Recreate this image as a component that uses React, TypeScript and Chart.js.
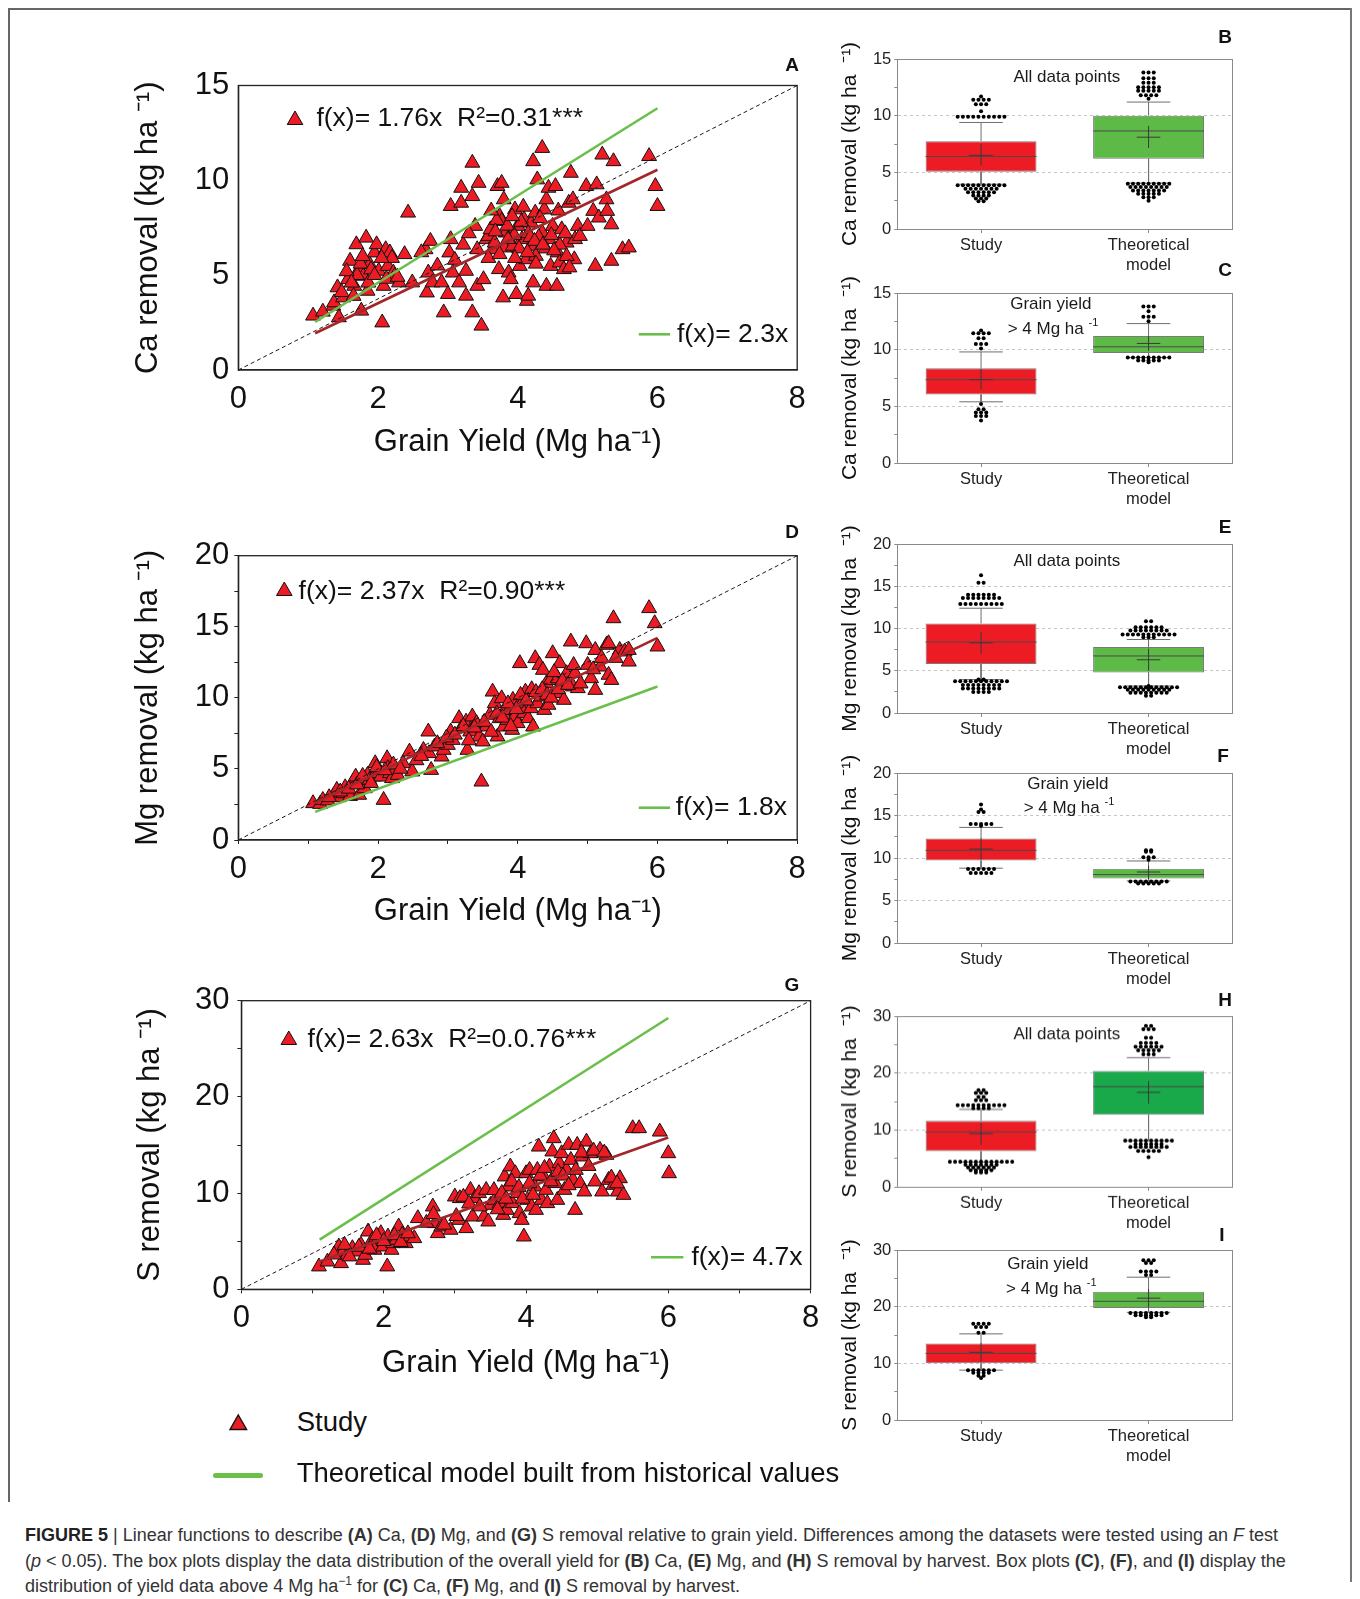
import React, { useEffect, useRef } from 'react';
import { Chart, registerables } from 'chart.js';

Chart.register(...registerables);

const FONT = '"Liberation Sans", Arial, Helvetica, sans-serif';
Chart.defaults.font.family = FONT;

const PAGE_X = 8;
const PAGE_Y = 8;

// ======================= DATA =======================
type Pt = [number, number];

// Scatter panels: [grain yield (Mg/ha), removal (kg/ha)]
const CA_POINTS: Pt[] = [
  [1.07,2.86],[1.21,3.07],[1.36,3.38],[1.42,4.35],[1.37,3.56],[1.44,2.77],[1.50,3.82],[1.57,4.78],
  [1.60,5.75],[1.66,4.43],[1.69,6.62],[1.73,5.31],[1.76,3.12],[1.81,5.75],[1.83,6.97],[1.79,4.96],
  [1.85,4.17],[1.88,5.57],[1.95,6.19],[1.98,6.62],[2.01,5.22],[2.06,2.50],[2.08,4.43],[2.11,6.36],
  [2.14,5.48],[2.17,6.19],[2.22,5.13],[2.24,4.96],[2.30,4.61],[2.38,6.10],[2.43,8.29],[2.49,4.61],
  [2.70,4.08],[2.72,5.13],[2.68,6.36],[2.75,6.80],[2.78,4.61],[2.91,4.61],[2.94,3.03],[3.00,4.00],
  [3.02,6.19],[3.04,6.89],[3.04,8.64],[3.07,5.13],[3.16,4.61],[3.19,9.60],[3.19,8.81],[3.26,5.22],
  [3.26,3.91],[3.35,10.92],[3.35,9.16],[3.39,7.59],[3.35,3.03],[3.42,6.36],[3.42,4.43],[3.44,9.86],
  [3.48,2.33],[3.51,4.78],[3.55,6.89],[3.58,7.06],[3.61,7.41],[3.64,6.36],[3.67,6.71],[3.71,9.69],
  [3.73,5.31],[3.74,8.11],[3.77,7.85],[3.77,9.86],[3.79,3.82],[3.80,8.99],[3.81,6.45],[3.83,7.24],
  [3.87,5.13],[3.90,4.78],[3.93,6.54],[3.96,8.46],[3.98,4.00],[4.00,7.59],[4.03,5.48],[4.06,6.89],
  [4.09,7.94],[4.12,5.83],[4.13,3.64],[4.15,3.91],[4.19,7.76],[4.19,6.54],[4.22,11.00],[4.22,4.61],
  [4.25,8.29],[4.26,6.01],[4.28,10.04],[4.35,11.70],[4.35,7.24],[4.38,8.46],[4.41,8.99],[4.41,4.43],
  [4.44,9.60],[4.45,6.89],[4.47,5.48],[4.50,7.59],[4.54,9.69],[4.56,4.43],[4.57,6.19],[4.60,5.66],
  [4.63,7.41],[4.66,5.31],[4.70,6.71],[4.73,8.81],[4.76,10.39],[4.79,8.99],[4.81,5.83],[4.82,6.89],
  [4.86,7.59],[4.89,7.06],[4.98,9.69],[5.00,7.59],[5.08,8.38],[5.11,5.48],[5.13,9.78],[5.16,8.03],
  [5.21,11.35],[5.27,8.99],[5.28,8.38],[5.34,7.67],[5.34,5.75],[5.37,11.00],[5.50,6.36],[5.59,6.45],
  [5.88,11.27],[5.97,9.69],[6.00,8.64],[3.85,7.60],[3.95,7.10],[4.05,7.80],[4.15,7.20],[4.30,7.00],
  [3.70,7.90],[4.40,6.40],[4.60,6.60],[4.70,6.00],[1.70,5.00],[1.75,5.60],[1.90,5.30],[2.20,5.90],
  [3.62,8.40],[3.68,7.30],[3.86,6.90],[3.92,8.10],[4.02,6.40],[4.08,8.60],[4.18,7.00],[4.24,6.80],
  [4.32,8.00],[4.36,6.60],[4.48,7.10],[4.52,6.30],[4.58,8.40],[4.68,7.20],[4.74,5.40],[3.58,5.90],
  [3.74,6.10],[4.26,5.60],[4.14,6.20],[3.96,5.90],[1.55,5.20],[1.62,4.60],[1.78,6.00],[1.86,4.60],
  [1.95,5.00],[2.05,5.90],[2.12,4.80],[2.28,4.90],[1.48,4.10],[1.65,3.90],[2.85,5.50],[3.10,5.80],
  [3.22,6.60],[3.30,7.20],[2.62,6.20],
];

const MG_POINTS: Pt[] = [
  [1.07,2.58],[1.17,2.53],[1.21,2.81],[1.28,2.77],[1.36,3.09],[1.41,3.52],[1.44,3.00],[1.50,3.28],
  [1.53,3.70],[1.60,3.09],[1.63,3.99],[1.68,4.45],[1.73,3.17],[1.76,4.10],[1.81,3.63],[1.85,4.57],
  [1.88,4.22],[1.94,4.45],[1.96,5.39],[2.00,4.69],[2.04,4.45],[2.08,2.81],[2.13,5.74],[2.14,5.04],
  [2.17,4.69],[2.20,4.34],[2.24,4.92],[2.28,4.57],[2.36,5.39],[2.45,6.21],[2.49,4.81],[2.65,6.33],
  [2.72,7.62],[2.73,6.10],[2.76,4.92],[2.81,6.57],[2.91,5.86],[2.94,6.33],[3.00,6.68],[3.04,7.62],
  [3.07,7.03],[3.16,8.56],[3.19,7.85],[3.26,8.32],[3.28,6.33],[3.32,7.62],[3.35,8.68],[3.41,8.21],
  [3.45,7.27],[3.48,4.10],[3.50,6.92],[3.55,7.97],[3.60,8.79],[3.64,10.43],[3.67,9.61],[3.71,7.27],
  [3.74,8.56],[3.77,9.96],[3.80,7.97],[3.82,9.14],[3.85,8.44],[3.88,9.14],[3.92,7.74],[3.93,9.85],
  [3.96,8.68],[4.00,8.21],[4.03,12.43],[4.06,9.61],[4.09,8.91],[4.11,10.43],[4.15,8.56],[4.19,9.26],
  [4.22,7.97],[4.25,12.78],[4.28,9.61],[4.31,12.31],[4.33,10.08],[4.36,11.96],[4.38,9.14],[4.41,11.02],
  [4.44,9.50],[4.47,11.25],[4.50,13.13],[4.54,10.32],[4.57,11.37],[4.60,12.43],[4.63,10.90],[4.66,9.85],
  [4.70,11.72],[4.76,13.95],[4.79,10.79],[4.82,11.72],[4.86,10.67],[4.98,13.83],[5.00,12.31],[5.05,11.37],
  [5.11,13.36],[5.11,10.55],[5.18,12.19],[5.27,13.72],[5.30,11.61],[5.30,13.83],[5.34,11.25],[5.37,15.59],
  [5.46,13.36],[5.53,13.25],[5.59,12.54],[5.59,13.36],[5.88,16.30],[5.96,15.24],[6.00,13.60],
  [1.30,3.00],[1.46,3.40],[1.58,3.60],[1.70,3.90],[1.78,4.50],[1.90,4.00],[1.98,5.10],[2.10,4.90],
  [2.22,5.30],[2.32,5.00],[2.55,5.60],[2.62,5.90],[2.85,6.80],[2.98,7.20],[3.10,7.40],[3.22,8.00],
  [3.30,7.00],[3.38,7.90],[3.52,8.30],[3.62,7.60],[3.70,8.90],[3.78,8.60],[3.86,9.60],[3.90,8.00],
  [3.98,9.20],[4.04,10.20],[4.12,9.80],[4.20,10.60],[4.26,10.40],[4.35,10.60],[4.42,10.20],[4.48,10.00],
  [4.52,11.80],[4.58,10.60],[4.64,11.20],[4.72,10.90],[4.80,12.30],[4.90,11.00],[5.08,12.00],[5.20,12.80],
  [5.40,12.80],
];

const S_POINTS: Pt[] = [
  [1.09,2.36],[1.21,2.87],[1.37,4.43],[1.40,2.70],[1.43,3.91],[1.49,3.57],[1.56,4.26],[1.62,3.91],
  [1.68,4.61],[1.71,3.05],[1.74,3.57],[1.78,5.99],[1.84,5.13],[1.87,4.09],[1.93,5.30],[1.96,5.82],
  [1.99,4.43],[2.05,2.36],[2.06,5.47],[2.11,4.09],[2.13,4.78],[2.18,5.13],[2.21,6.51],[2.26,5.65],
  [2.31,4.78],[2.37,5.47],[2.43,5.30],[2.48,7.38],[2.69,8.59],[2.72,6.86],[2.76,5.82],[2.81,6.51],
  [2.94,6.17],[3.00,9.63],[3.06,7.20],[3.07,9.46],[3.16,6.34],[3.22,10.32],[3.25,7.55],[3.28,9.46],
  [3.34,9.98],[3.41,7.55],[3.44,10.32],[3.47,7.03],[3.50,8.76],[3.56,9.28],[3.63,8.94],[3.68,7.72],
  [3.70,11.71],[3.73,8.24],[3.75,10.67],[3.78,12.75],[3.81,8.94],[3.85,12.05],[3.88,9.98],[3.91,7.90],
  [3.94,7.20],[3.97,5.47],[4.00,12.05],[4.02,9.28],[4.05,12.40],[4.08,8.59],[4.12,10.67],[4.14,8.24],
  [4.16,12.40],[4.18,14.82],[4.22,9.28],[4.25,11.71],[4.28,10.32],[4.30,8.94],[4.33,12.75],[4.37,14.31],
  [4.39,15.69],[4.41,11.02],[4.44,9.28],[4.47,13.09],[4.50,14.13],[4.54,10.32],[4.57,12.40],[4.60,15.00],
  [4.63,13.44],[4.66,11.36],[4.69,8.24],[4.72,15.00],[4.76,11.02],[4.79,13.79],[4.82,10.15],[4.85,15.34],
  [4.91,14.13],[4.97,11.19],[5.04,14.48],[5.07,10.15],[5.13,13.96],[5.16,11.36],[5.23,10.84],[5.29,10.15],
  [5.32,11.53],[5.37,9.80],[5.50,16.73],[5.59,16.73],[5.88,16.38],[6.00,14.13],[6.01,12.05],
  [1.30,3.60],[1.45,4.60],[1.52,3.40],[1.65,4.40],[1.80,4.20],[1.90,5.60],[2.00,5.00],[2.15,5.60],
  [2.24,4.90],[2.34,5.80],[2.60,6.90],[2.70,7.80],[2.85,6.70],[3.02,7.60],[3.12,9.60],[3.20,8.90],
  [3.35,8.60],[3.55,10.30],[3.60,8.30],[3.66,10.00],[3.72,9.40],[3.80,11.20],[3.90,10.60],[3.95,9.40],
  [4.05,11.00],[4.10,9.80],[4.20,11.80],[4.26,12.60],[4.35,11.20],[4.45,12.20],[4.52,11.80],[4.60,10.80],
  [4.70,12.40],[4.78,14.20],[4.88,12.80],[4.95,14.40],[5.10,14.20],[5.20,11.60],[5.28,11.00],
];

// Linear functions (Ca, Mg, S)
const FIT_SLOPES = [1.76, 2.37, 2.63];
const THEO_SLOPES = [2.3, 1.8, 4.7];
const R2_LABELS = ['0.31', '0.90', '0.0.76'];
const FIT_X_RANGE = [1.1, 6.0];
const YIELD_AXIS = [0, 8];

// Box plots: [lower whisker, Q1, median, Q3, upper whisker, mean, mean bar low, mean bar high]
const B_STUDY = [3.95, 5.05, 6.4, 7.75, 9.4, 6.5, 5.6, 7.5];
const B_THEO = [4.05, 6.2, 8.65, 10.0, 11.2, 8.1, 7.15, 9.1];
const C_STUDY = [5.4, 6.05, 7.35, 8.35, 9.8, 7.35, 6.5, 8.3];
const C_THEO = [9.3, 9.7, 10.25, 11.2, 12.3, 10.55, 9.9, 11.2];
const E_STUDY = [3.95, 5.8, 8.4, 10.6, 12.4, 8.3, 7.0, 9.6];
const E_THEO = [3.2, 4.8, 6.75, 7.8, 8.7, 6.3, 5.0, 7.6];
const F_STUDY = [8.8, 9.7, 10.9, 12.3, 13.6, 11.05, 9.8, 12.35];
const F_THEO = [7.3, 7.6, 8.05, 8.75, 9.65, 8.35, 7.5, 9.1];
const H_STUDY = [4.35, 6.25, 9.65, 11.6, 13.6, 9.35, 7.4, 11.25];
const H_THEO = [8.1, 12.65, 17.6, 20.4, 22.7, 16.6, 14.6, 18.6];
const I_STUDY = [8.8, 10.0, 11.75, 13.5, 15.2, 11.95, 10.2, 13.6];
const I_THEO = [19.0, 19.75, 20.95, 22.65, 25.2, 21.5, 19.9, 23.1];

// Outlying points beyond whiskers: [value, number of points at that value]
const B_STUDY_DOTS = [[11.7,1],[11.4,4],[11.0,3],[10.4,1],[9.9,10],[3.85,10],[3.55,7],[3.25,6],[2.95,4],[2.7,3],[2.45,2]];
const B_THEO_DOTS = [[13.8,3],[13.3,3],[12.9,3],[12.5,5],[12.2,5],[11.8,4],[11.5,1],[4.0,9],[3.7,8],[3.4,7],[3.1,5],[2.8,3],[2.5,1]];
const C_STUDY_DOTS = [[11.7,1],[11.45,4],[11.0,2],[10.5,3],[10.1,1],[5.2,1],[4.75,2],[4.45,3],[4.15,3],[3.75,1]];
const C_THEO_DOTS = [[13.8,3],[13.4,1],[12.9,3],[12.5,1],[9.3,9],[9.05,5],[8.9,1]];
const E_STUDY_DOTS = [[16.3,1],[15.4,2],[14.0,6],[13.6,8],[12.9,9],[3.95,2],[3.75,11],[3.3,8],[2.9,8],[2.5,4]];
const E_THEO_DOTS = [[10.85,2],[10.15,6],[9.75,8],[9.3,11],[8.95,3],[3.2,1],[3.05,12],[2.75,9],[2.4,8],[2.05,2]];
const F_STUDY_DOTS = [[16.3,1],[15.7,1],[15.4,2],[14.0,5],[13.8,1],[8.7,6],[8.25,5]];
const F_THEO_DOTS = [[10.9,2],[10.75,2],[10.1,3],[9.8,1],[7.25,8],[7.0,5]];
const H_STUDY_DOTS = [[17.0,2],[16.5,3],[15.8,2],[15.2,3],[14.35,10],[13.8,4],[4.4,13],[3.9,7],[3.4,6],[2.9,5],[2.5,3]];
const H_THEO_DOTS = [[28.3,2],[27.7,3],[26.2,2],[25.3,4],[24.6,6],[24.0,5],[23.3,3],[8.1,10],[7.5,6],[7.0,8],[6.3,5],[5.2,1]];
const I_STUDY_DOTS = [[17.0,4],[16.4,3],[15.4,2],[8.8,6],[8.35,4],[7.8,2],[7.4,1]];
const I_THEO_DOTS = [[28.2,3],[27.7,2],[26.2,4],[25.6,2],[18.9,8],[18.5,6],[18.15,2]];

const BOX_CATEGORIES = [['Study'], ['Theoretical', 'model']];

// ======================= STYLE =======================
const STUDY_RED = '#ED1C24';
const THEO_GREEN = '#6ABF4B';
const FIT_RED = '#A3262A';
const BOX_GREEN = '#5DBA46';
const BOX_GREEN_H = '#19A94B';
const BOX_GRAY = '#8a8a8a';

const LO = 0, Q1 = 1, MED = 2, Q3 = 3, HI = 4, MEAN = 5, MLO = 6, MHI = 7;

function drawTriangle(ctx: any, x: number, y: number, r: number) {
  ctx.beginPath();
  for (let k = 0; k < 3; k++) {
    const a = (k * 2 * Math.PI) / 3;
    const px = x + Math.sin(a) * r;
    const py = y - Math.cos(a) * r;
    if (k === 0) ctx.moveTo(px, py); else ctx.lineTo(px, py);
  }
  ctx.closePath();
  ctx.fillStyle = STUDY_RED;
  ctx.fill();
  ctx.lineWidth = 1;
  ctx.strokeStyle = '#111';
  ctx.stroke();
}

function drawSup(ctx: any, base: string, sup: string, x: number, y: number, size: number) {
  ctx.font = `${size}px ${FONT}`;
  const w1 = ctx.measureText(base).width;
  ctx.font = `${size * 0.65}px ${FONT}`;
  const w2 = ctx.measureText(sup).width;
  const x0 = x - (w1 + w2) / 2;
  ctx.textAlign = 'left';
  ctx.font = `${size}px ${FONT}`;
  ctx.fillText(base, x0, y);
  ctx.font = `${size * 0.65}px ${FONT}`;
  ctx.fillText(sup, x0 + w1, y - size * 0.38);
}

// ======================= SCATTER =======================
const SCATTER_SPECS = [
  {
    points: CA_POINTS, fit: FIT_SLOPES[0], theo: THEO_SLOPES[0], r2: R2_LABELS[0],
    yMax: 15, yStep: 5, yMajor: 5, xStep: 2, ticks: false,
    yTitle: 'Ca removal (kg ha \u207B\u00B9)',
    canvas: [100, 40, 720, 430], plot: [238.3, 85.5, 797.2, 370],
    yTitleX: 148, xTitleY: 442, yLabPad: 9, xLabPad: 11,
    ann: { tri: [56.7, 34.5], text: [78.1, 33.5], line: [-158.4, -127.2, -35.7], text2: [-120.2, -35] },
  },
  {
    points: MG_POINTS, fit: FIT_SLOPES[1], theo: THEO_SLOPES[1], r2: R2_LABELS[1],
    yMax: 20, yStep: 2.5, yMajor: 5, xStep: 1, ticks: true,
    yTitle: 'Mg removal (kg ha \u207B\u00B9)',
    canvas: [100, 510, 720, 430], plot: [238.3, 555.7, 797.2, 840],
    yTitleX: 148, xTitleY: 911, yLabPad: 5, xLabPad: 7,
    ann: { tri: [46, 35.3], text: [60.3, 36], line: [-158.4, -127.2, -32.3], text2: [-121.4, -32] },
  },
  {
    points: S_POINTS, fit: FIT_SLOPES[2], theo: THEO_SLOPES[2], r2: R2_LABELS[2],
    yMax: 30, yStep: 5, yMajor: 10, xStep: 1, ticks: true,
    yTitle: 'S removal (kg ha \u207B\u00B9)',
    canvas: [100, 955, 730, 430], plot: [241.4, 1000.7, 810.6, 1289.3],
    yTitleX: 150, xTitleY: 1363, yLabPad: 8, xLabPad: 7,
    ann: { tri: [47.4, 39.3], text: [66.1, 39.3], line: [-159.6, -127.2, -32], text2: [-119.2, -32] },
  },
];

function scatterDecor(s: any) {
  return {
    id: 'scatterDecor',
    afterDraw(chart: any) {
      const { ctx, chartArea: a } = chart;
      ctx.save();
      ctx.strokeStyle = '#222';
      ctx.lineWidth = 1.3;
      ctx.strokeRect(a.left, a.top, a.right - a.left, a.bottom - a.top);
      drawTriangle(ctx, a.left + s.ann.tri[0], a.top + s.ann.tri[1], 9);
      ctx.fillStyle = '#111';
      ctx.textBaseline = 'middle';
      ctx.textAlign = 'left';
      ctx.font = `26.5px ${FONT}`;
      ctx.fillText(`f(x)= ${s.fit}x  R\u00B2=${s.r2}***`, a.left + s.ann.text[0], a.top + s.ann.text[1]);
      ctx.strokeStyle = THEO_GREEN;
      ctx.lineWidth = 2.6;
      ctx.beginPath();
      ctx.moveTo(a.right + s.ann.line[0], a.bottom + s.ann.line[2]);
      ctx.lineTo(a.right + s.ann.line[1], a.bottom + s.ann.line[2]);
      ctx.stroke();
      ctx.fillText(`f(x)= ${s.theo}x`, a.right + s.ann.text2[0], a.bottom + s.ann.text2[1]);
      ctx.restore();
    },
  };
}

function makeScatterConfig(s: any) {
  const [cl, ct, cw, ch] = s.canvas;
  const [pl, pt, pr, pb] = s.plot;
  const titleSize = 31;
  const half = (titleSize * 1.2) / 2;
  const tickFont = { family: FONT, size: 31 };
  return {
    type: 'scatter',
    data: {
      datasets: [
        {
          type: 'line', data: [{ x: YIELD_AXIS[0], y: 0 }, { x: YIELD_AXIS[1], y: s.yMax }],
          borderColor: '#1a1a1a', borderWidth: 1, borderDash: [4, 3], pointRadius: 0, order: 1,
        },
        {
          type: 'line', data: FIT_X_RANGE.map((x) => ({ x, y: s.theo * x })),
          borderColor: THEO_GREEN, borderWidth: 2.6, pointRadius: 0, order: 1,
        },
        {
          type: 'line', data: FIT_X_RANGE.map((x) => ({ x, y: s.fit * x })),
          borderColor: FIT_RED, borderWidth: 2.6, pointRadius: 0, order: 1,
        },
        {
          type: 'scatter', data: s.points.map(([x, y]: Pt) => ({ x, y })),
          pointStyle: 'triangle', pointRadius: 8.6, backgroundColor: STUDY_RED,
          borderColor: '#111', borderWidth: 1, order: 10,
        },
      ],
    },
    options: {
      animation: false, responsive: false, devicePixelRatio: 1, events: [],
      layout: { padding: { left: 0, top: pt - ct, right: cl + cw - pr, bottom: 0 } },
      plugins: { legend: { display: false }, tooltip: { enabled: false } },
      scales: {
        x: {
          type: 'linear', min: YIELD_AXIS[0], max: YIELD_AXIS[1],
          afterFit: (sc: any) => { sc.height = ct + ch - pb; },
          ticks: {
            stepSize: s.xStep, autoSkip: false, maxRotation: 0, padding: s.xLabPad, color: '#111', font: tickFont,
            callback: (v: number) => (v % 2 === 0 ? String(v) : ''),
          },
          grid: { display: true, drawOnChartArea: false, drawTicks: s.ticks, tickLength: 4, tickColor: '#222', tickWidth: 1 },
          border: { display: true, color: '#222', width: 1.3 },
          title: {
            display: true, text: 'Grain Yield (Mg ha\u207B\u00B9)', color: '#111',
            font: { family: FONT, size: titleSize }, padding: { top: 0, bottom: ct + ch - s.xTitleY - half },
          },
        },
        y: {
          type: 'linear', min: 0, max: s.yMax,
          afterFit: (sc: any) => { sc.width = pl - cl; },
          ticks: {
            stepSize: s.yStep, autoSkip: false, padding: s.yLabPad, color: '#111', font: tickFont,
            callback: (v: number) => (v % s.yMajor === 0 ? String(v) : ''),
          },
          grid: { display: true, drawOnChartArea: false, drawTicks: s.ticks, tickLength: 4, tickColor: '#222', tickWidth: 1 },
          border: { display: true, color: '#222', width: 1.3 },
          title: {
            display: true, text: s.yTitle, color: '#111',
            font: { family: FONT, size: titleSize }, padding: { top: s.yTitleX - cl - half, bottom: 0 },
          },
        },
      },
    },
    plugins: [scatterDecor(s)],
  };
}

// ======================= BOX PLOTS =======================
const BOX_SPECS = [
  { plot: [897.3, 59, 1232.3, 229.3], yMax: 15, major: 5, minor: 2.5, study: B_STUDY, theo: B_THEO,
    studyDots: B_STUDY_DOTS, theoDots: B_THEO_DOTS, green: BOX_GREEN, yTitle: 'Ca removal (kg ha  \u207B\u00B9)',
    note: { kind: 'all', dx: 2, dy: 18 } },
  { plot: [897.3, 293.3, 1232.3, 463.3], yMax: 15, major: 5, minor: 2.5, study: C_STUDY, theo: C_THEO,
    studyDots: C_STUDY_DOTS, theoDots: C_THEO_DOTS, green: BOX_GREEN, yTitle: 'Ca removal (kg ha  \u207B\u00B9)',
    note: { kind: 'grain', dx: -14, dy: 11.7, dx2: -11.8, dy2: 36.7 } },
  { plot: [897.3, 544.3, 1232.3, 713.3], yMax: 20, major: 5, minor: 2.5, study: E_STUDY, theo: E_THEO,
    studyDots: E_STUDY_DOTS, theoDots: E_THEO_DOTS, green: BOX_GREEN, yTitle: 'Mg removal (kg ha  \u207B\u00B9)',
    note: { kind: 'all', dx: 2, dy: 17.4 } },
  { plot: [897.3, 773.3, 1232.3, 943.3], yMax: 20, major: 5, minor: 2.5, study: F_STUDY, theo: F_THEO,
    studyDots: F_STUDY_DOTS, theoDots: F_THEO_DOTS, green: BOX_GREEN, yTitle: 'Mg removal (kg ha  \u207B\u00B9)',
    note: { kind: 'grain', dx: 3, dy: 11.7, dx2: 4.2, dy2: 35 } },
  { plot: [897.3, 1016, 1232.3, 1186.7], yMax: 30, major: 10, minor: 5, study: H_STUDY, theo: H_THEO,
    studyDots: H_STUDY_DOTS, theoDots: H_THEO_DOTS, green: BOX_GREEN_H, yTitle: 'S removal (kg ha  \u207B\u00B9)',
    note: { kind: 'all', dx: 2, dy: 18 } },
  { plot: [897.3, 1250, 1232.3, 1420], yMax: 30, major: 10, minor: 5, study: I_STUDY, theo: I_THEO,
    studyDots: I_STUDY_DOTS, theoDots: I_THEO_DOTS, green: BOX_GREEN, yTitle: 'S removal (kg ha  \u207B\u00B9)',
    note: { kind: 'grain', dx: -17, dy: 14, dx2: -13.5, dy2: 39.3 } },
];

const BOX_CANVAS_LEFT = 830;
const BOX_CANVAS_WIDTH = 410;
const boxCanvas = (b: any) => [BOX_CANVAS_LEFT, b.plot[1] - 30, BOX_CANVAS_WIDTH, b.plot[3] - b.plot[1] + 82];

function boxDecor(b: any) {
  return {
    id: 'boxDecor',
    afterDraw(chart: any) {
      const { ctx, chartArea: a } = chart;
      ctx.save();
      ctx.strokeStyle = BOX_GRAY;
      ctx.lineWidth = 1;
      ctx.strokeRect(Math.round(a.left) + 0.5, Math.round(a.top) + 0.5, Math.round(a.right - a.left), Math.round(a.bottom - a.top));
      ctx.fillStyle = '#1a1a1a';
      ctx.textBaseline = 'middle';
      ctx.textAlign = 'center';
      const cx = (a.left + a.right) / 2;
      ctx.font = `17px ${FONT}`;
      if (b.note.kind === 'all') {
        ctx.fillText('All data points', cx + b.note.dx, a.top + b.note.dy);
      } else {
        ctx.fillText('Grain yield', cx + b.note.dx, a.top + b.note.dy);
        drawSup(ctx, '> 4 Mg ha ', '-1', cx + b.note.dx2, a.top + b.note.dy2, 17);
      }
      ctx.restore();
    },
  };
}

function makeBoxConfig(b: any) {
  const [cl, ct, cw, ch] = boxCanvas(b);
  const [pl, pt, pr, pb] = b.plot;
  const centers = [0.5, 1.5];
  const groups = [b.study, b.theo];
  const dotRows = [b.studyDots, b.theoDots];
  const BOX_HALF = 0.331;
  const CAP = 0.13;
  const MEAN_HALF = 0.07;
  const DOT_GAP = 0.031;
  const whiskers: any[] = [];
  const medians: any[] = [];
  const means: any[] = [];
  const dots: any[] = [];
  groups.forEach((g: number[], i: number) => {
    const c = centers[i];
    whiskers.push(
      { x: c, y: g[Q3] }, { x: c, y: g[HI] }, { x: c, y: null },
      { x: c - CAP, y: g[HI] }, { x: c + CAP, y: g[HI] }, { x: c, y: null },
      { x: c, y: g[Q1] }, { x: c, y: g[LO] }, { x: c, y: null },
      { x: c - CAP, y: g[LO] }, { x: c + CAP, y: g[LO] }, { x: c, y: null },
    );
    medians.push({ x: c - BOX_HALF, y: g[MED] }, { x: c + BOX_HALF, y: g[MED] }, { x: c, y: null });
    means.push(
      { x: c - MEAN_HALF, y: g[MEAN] }, { x: c + MEAN_HALF, y: g[MEAN] }, { x: c, y: null },
      { x: c, y: g[MLO] }, { x: c, y: g[MHI] }, { x: c, y: null },
    );
    dotRows[i].forEach(([v, n]: number[]) => {
      for (let k = 0; k < n; k++) dots.push({ x: c + (k - (n - 1) / 2) * DOT_GAP, y: v });
    });
  });
  const tickFont = { family: FONT, size: 16.5 };
  return {
    type: 'bar',
    data: {
      datasets: [
        {
          type: 'bar', data: groups.map((g: number[], i: number) => ({ x: centers[i], y: [g[Q1], g[Q3]] })),
          backgroundColor: [STUDY_RED, b.green], borderColor: '#7a7a7a', borderWidth: 1, borderSkipped: false,
          categoryPercentage: 1, barPercentage: 0.662, order: 10,
        },
        { type: 'line', data: whiskers, borderColor: '#6e6e6e', borderWidth: 1, pointRadius: 0, spanGaps: false, order: 3 },
        { type: 'line', data: medians, borderColor: '#4a4a4a', borderWidth: 1, pointRadius: 0, spanGaps: false, order: 2 },
        { type: 'line', data: means, borderColor: '#3a3a3a', borderWidth: 1, pointRadius: 0, spanGaps: false, order: 1 },
        { type: 'scatter', data: dots, pointRadius: 2, backgroundColor: '#000', borderWidth: 0, order: 0 },
      ],
    },
    options: {
      animation: false, responsive: false, devicePixelRatio: 1, events: [],
      layout: { padding: { left: 0, top: pt - ct, right: cl + cw - pr, bottom: 0 } },
      plugins: { legend: { display: false }, tooltip: { enabled: false } },
      scales: {
        x: {
          type: 'linear', min: 0, max: 2, offset: false,
          afterBuildTicks: (sc: any) => { sc.ticks = centers.map((v) => ({ value: v })); },
          afterFit: (sc: any) => { sc.height = ct + ch - pb; },
          ticks: {
            autoSkip: false, maxRotation: 0, padding: 3, color: '#222', font: tickFont,
            callback: (v: number) => BOX_CATEGORIES[centers.indexOf(v)] || '',
          },
          grid: { offset: false, display: true, drawOnChartArea: false, drawTicks: true, tickLength: 4, tickColor: BOX_GRAY },
          border: { display: true, color: BOX_GRAY, width: 1 },
        },
        y: {
          type: 'linear', min: 0, max: b.yMax,
          afterFit: (sc: any) => { sc.width = pl - cl; },
          ticks: {
            stepSize: b.minor, autoSkip: false, padding: 3, color: '#222', font: tickFont,
            callback: (v: number) => (v % b.major === 0 ? String(v) : ''),
          },
          grid: {
            display: true, drawOnChartArea: true, drawTicks: true, tickLength: 3, tickColor: BOX_GRAY, lineWidth: 1,
            color: (c: any) => (c.tick && c.tick.value % b.major === 0 && c.tick.value > 0 && c.tick.value < b.yMax ? '#c6c6c6' : 'rgba(0,0,0,0)'),
          },
          border: { display: true, color: BOX_GRAY, width: 1, dash: [3, 3] },
          title: {
            display: true, text: b.yTitle, color: '#111', font: { family: FONT, size: 21 },
            padding: { top: 850 - cl - 12.6, bottom: 0 },
          },
        },
      },
    },
    plugins: [boxDecor(b)],
  };
}

// ======================= REACT =======================
function ChartCanvas({ box, make }: { box: number[]; make: () => any }) {
  const ref = useRef<HTMLCanvasElement>(null);
  useEffect(() => {
    const chart = new Chart(ref.current as HTMLCanvasElement, make());
    return () => chart.destroy();
  }, []);
  const [l, t, w, h] = box;
  return (
    <canvas
      ref={ref}
      width={w}
      height={h}
      style={{ position: 'absolute', left: l - PAGE_X, top: t - PAGE_Y, width: w, height: h }}
    />
  );
}

const PANEL_LETTERS: [string, number, number][] = [
  ['A', 792, 65], ['D', 792, 531.7], ['G', 792, 985],
  ['B', 1225, 36.7], ['C', 1225, 270], ['E', 1225, 526.7],
  ['F', 1223, 756], ['H', 1225, 1000], ['I', 1222, 1235],
];

const abs = (l: number, t: number, extra: any = {}) => ({ position: 'absolute' as const, left: l - PAGE_X, top: t - PAGE_Y, ...extra });

export default function App() {
  return (
    <div style={{ position: 'relative', width: 1344, height: 1591, fontFamily: FONT, color: '#111' }}>
      {/* figure frame */}
      <div style={abs(8, 8, { width: 1344, height: 2, background: '#666' })} />
      <div style={abs(8, 8, { width: 2, height: 1494, background: '#666' })} />
      <div style={abs(1350, 8, { width: 2, height: 1574, background: '#777' })} />

      {SCATTER_SPECS.map((s, i) => (
        <ChartCanvas key={'sc' + i} box={s.canvas} make={() => makeScatterConfig(s)} />
      ))}
      {BOX_SPECS.map((b, i) => (
        <ChartCanvas key={'bx' + i} box={boxCanvas(b)} make={() => makeBoxConfig(b)} />
      ))}

      {PANEL_LETTERS.map(([t, x, y]) => (
        <div key={t} style={abs(x - 15, y - 12, { width: 30, height: 24, lineHeight: '24px', textAlign: 'center', fontWeight: 'bold', fontSize: 19 })}>
          {t}
        </div>
      ))}

      {/* legend */}
      <svg style={abs(228, 1413, { width: 22, height: 20 })} width={22} height={20}>
        <polygon points="10.3,2 18.6,16.5 2,16.5" fill={STUDY_RED} stroke="#111" strokeWidth={1.4} />
      </svg>
      <div style={abs(296.7, 1406.6, { fontSize: 27.5, lineHeight: '30px', whiteSpace: 'nowrap' })}>Study</div>
      <div style={abs(213.3, 1472.8, { width: 49.4, height: 5, borderRadius: 2.5, background: THEO_GREEN })} />
      <div style={abs(296.7, 1458, { fontSize: 27.5, lineHeight: '30px', whiteSpace: 'nowrap' })}>
        Theoretical model built from historical values
      </div>

      {/* caption */}
      <div style={abs(25, 1523, { fontSize: 18, lineHeight: '25.5px', color: '#333', whiteSpace: 'nowrap' })}>
        <b style={{ color: '#222' }}>FIGURE 5</b> | Linear functions to describe <b>(A)</b> Ca, <b>(D)</b> Mg, and <b>(G)</b> S removal relative to grain yield. Differences among the datasets were tested using an <i>F</i> test
        <br />
        (<i>p</i> &lt; 0.05). The box plots display the data distribution of the overall yield for <b>(B)</b> Ca, <b>(E)</b> Mg, and <b>(H)</b> S removal by harvest. Box plots <b>(C)</b>, <b>(F)</b>, and <b>(I)</b> display the
        <br />
        distribution of yield data above 4 Mg ha<sup style={{ fontSize: 12, lineHeight: 0 }}>−1</sup> for <b>(C)</b> Ca, <b>(F)</b> Mg, and <b>(I)</b> S removal by harvest.
      </div>
    </div>
  );
}
